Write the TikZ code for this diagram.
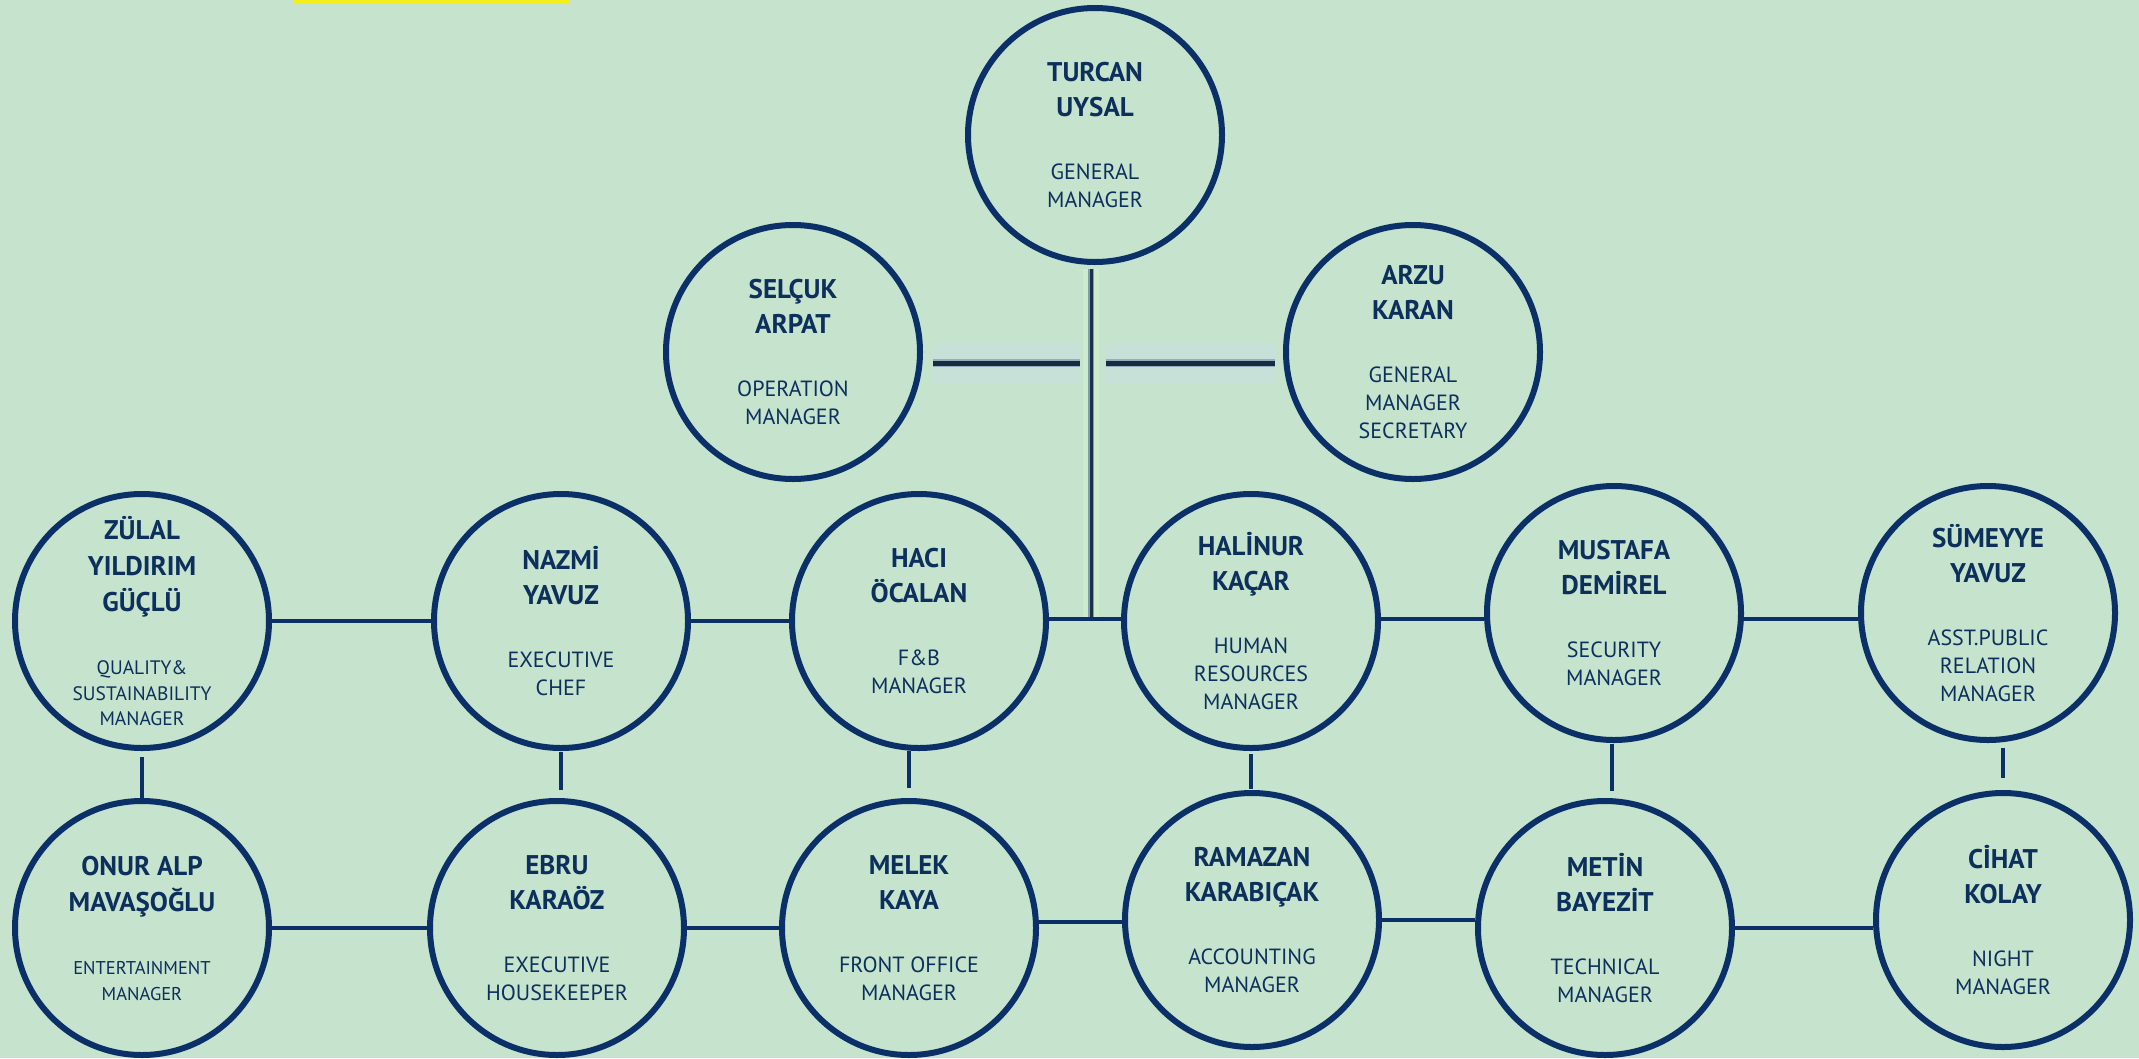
\documentclass[tikz,border=0pt]{standalone}
\usepackage{fontspec}
\setmainfont{PT Sans}
\definecolor{bg}{HTML}{C5E3CD}
\definecolor{navy}{HTML}{0A3067}
\definecolor{txt}{HTML}{0C2F5C}
\definecolor{spinecorec}{HTML}{1E3246}
\definecolor{spineedge}{HTML}{7F9DB5}
\definecolor{spineglow}{HTML}{CDEBCD}
\definecolor{glowedge}{HTML}{8FB0C4}
\definecolor{glowfaint}{HTML}{C7E1D9}
\definecolor{darkline}{HTML}{1A2C3C}
\definecolor{sun}{HTML}{F4EE1A}
\newcommand\nm[1]{{\fontsize{27}{28}\selectfont\bfseries #1}}
\newcommand\nms[1]{{\fontsize{27}{25.5}\selectfont\bfseries #1}}
\tikzset{
  staff/.style={circle, draw=navy, line width=6pt, minimum size=254pt, inner sep=0pt,
    align=center, text=txt, font=\fontsize{22}{28}\selectfont},
  smallstaff/.style={staff, font=\fontsize{19.5}{25.5}\selectfont},
  tinystaff/.style={staff, font=\fontsize{18.5}{25.5}\selectfont},
  link/.style={draw=navy, line width=4.5pt},
  spinehalo/.style={draw=spineglow, line width=16pt},
  spineedges/.style={draw=spineedge, line width=6pt},
  spinecore/.style={draw=spinecorec, line width=3pt},
  topfaint/.style={draw=glowfaint, line width=40pt},
  tophalo/.style={draw=glowedge, line width=8pt},
  topcore/.style={draw=darkline, line width=5pt},
}
\begin{document}
\begin{tikzpicture}[x=1pt,y=-1pt]
\fill[bg] (0,0) rectangle (2139,1058);
\useasboundingbox (0,0) rectangle (2139,1058);
\fill[sun] (293,0) rectangle (570,2.5);

% named coordinates for free connector ends
\coordinate (spine) at (1091,363);
\coordinate (junction) at (1091,619);

% top row
\node[staff] (turcan) at (1095,135) {\nm{TURCAN}\\[7pt]\nm{UYSAL}\\[35pt]GENERAL\\MANAGER};
\node[staff] (selcuk) at (793,352) {\nm{SELÇUK}\\[7pt]\nm{ARPAT}\\[35pt]OPERATION\\MANAGER};
\node[staff] (arzu) at (1413,352) {\nm{ARZU}\\[7pt]\nm{KARAN}\\[35pt]GENERAL\\MANAGER\\SECRETARY};

% middle row
\node[smallstaff] (zulal) at (142,621) {\nms{ZÜLAL}\\[10.5pt]\nms{YILDIRIM}\\[10.5pt]\nms{GÜÇLÜ}\\[38pt]QUALITY\&\\SUSTAINABILITY\\MANAGER};
\node[staff] (nazmi) at (561,621) {\nm{NAZMİ}\\[7pt]\nm{YAVUZ}\\[35pt]EXECUTIVE\\CHEF};
\node[staff] (haci) at (919,621) {\nm{HACI}\\[7pt]\nm{ÖCALAN}\\[35pt]F\&B\\MANAGER};
\node[staff] (halinur) at (1251,621) {\nm{HALİNUR}\\[7pt]\nm{KAÇAR}\\[35pt]HUMAN\\RESOURCES\\MANAGER};
\node[staff] (mustafa) at (1614,613) {\nm{MUSTAFA}\\[7pt]\nm{DEMİREL}\\[35pt]SECURITY\\MANAGER};
\node[staff] (sumeyye) at (1988,613) {\nm{SÜMEYYE}\\[7pt]\nm{YAVUZ}\\[35pt]ASST.PUBLIC\\RELATION\\MANAGER};

% bottom row
\node[tinystaff] (onur) at (142,928) {\nms{ONUR ALP}\\[10.5pt]\nms{MAVAŞOĞLU}\\[38pt]ENTERTAINMENT\\MANAGER};
\node[staff] (ebru) at (557,928) {\nm{EBRU}\\[7pt]\nm{KARAÖZ}\\[35pt]EXECUTIVE\\HOUSEKEEPER};
\node[staff] (melek) at (909,928) {\nm{MELEK}\\[7pt]\nm{KAYA}\\[35pt]FRONT OFFICE\\MANAGER};
\node[staff] (ramazan) at (1252,920) {\nm{RAMAZAN}\\[7pt]\nm{KARABIÇAK}\\[35pt]ACCOUNTING\\MANAGER};
\node[staff] (metin) at (1605,928) {\nm{METİN}\\[7pt]\nm{BAYEZİT}\\[35pt]TECHNICAL\\MANAGER};
\node[staff] (cihat) at (2003,920) {\nm{CİHAT}\\[7pt]\nm{KOLAY}\\[35pt]NIGHT\\MANAGER};

% top side branches
\draw[topfaint, shorten <=10pt, shorten >=11pt] (selcuk.east |- spine) -- (spine);
\draw[topfaint, shorten <=8pt, shorten >=15pt] (arzu.west |- spine) -- (spine);
\draw[tophalo, shorten <=10pt, shorten >=11pt] (selcuk.east |- spine) -- (spine);
\draw[tophalo, shorten <=8pt, shorten >=15pt] (arzu.west |- spine) -- (spine);
\draw[topcore, shorten <=10pt, shorten >=11pt] (selcuk.east |- spine) -- (spine);
\draw[topcore, shorten <=8pt, shorten >=15pt] (arzu.west |- spine) -- (spine);

% central spine
\draw[spinehalo, shorten <=4pt] (turcan.south -| spine) -- (junction);
\draw[spineedges, shorten <=4pt] (turcan.south -| spine) -- (junction);
\draw[spinecore, shorten <=4pt] (turcan.south -| spine) -- (junction);

% middle row links
\draw[link] (zulal.east) -- (zulal.east -| nazmi.west);
\draw[link] (nazmi.east) -- (nazmi.east -| haci.west);
\draw[link] (haci.east |- junction) -- (halinur.west |- junction);
\draw[link] (halinur.east |- junction) -- (mustafa.west |- junction);
\draw[link] (mustafa.east |- junction) -- (sumeyye.west |- junction);

% bottom row links
\draw[link] (onur.east) -- (onur.east -| ebru.west);
\draw[link] (ebru.east) -- (ebru.east -| melek.west);
\draw[link] ([yshift=6pt]melek.east) -- ([yshift=6pt]melek.east -| ramazan.west);
\draw[link] (ramazan.east) -- (ramazan.east -| metin.west);
\draw[link] (metin.east) -- (metin.east -| cihat.west);

% vertical links
\draw[link, shorten <=6pt] (onur.north |- zulal.south) -- (onur.north);
\draw[link, shorten <=1pt, shorten >=8pt] (nazmi.south) -- (nazmi.south |- ebru.north);
\draw[link, shorten >=10pt] (melek.north |- haci.south) -- (melek.north);
\draw[link, shorten <=3pt, shorten >=1pt] (halinur.south) -- (halinur.south |- ramazan.north);
\draw[link, shorten <=1pt, shorten >=7pt] ([xshift=7pt]metin.north |- mustafa.south) -- ([xshift=7pt]metin.north);
\draw[link, shorten <=5pt, shorten >=12pt] (cihat.north |- sumeyye.south) -- (cihat.north);
\end{tikzpicture}
\end{document}
